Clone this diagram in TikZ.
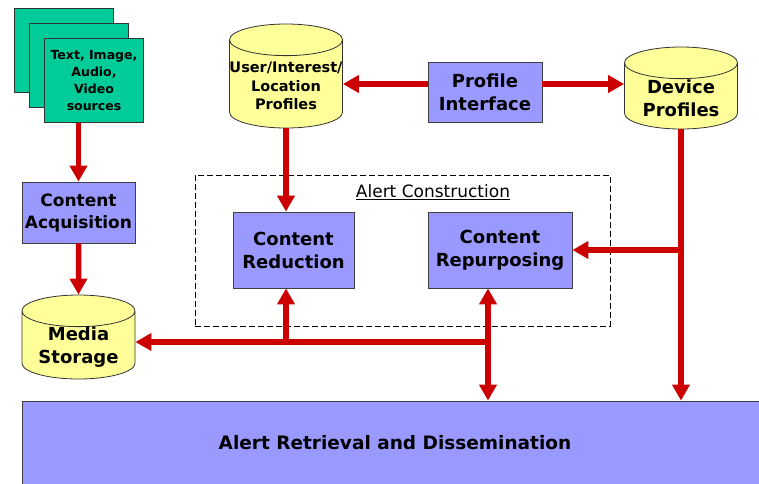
\documentclass[tikz,border=0pt]{standalone}
\usepackage{fontspec}
\setmainfont{DejaVu Sans}
\usetikzlibrary{arrows.meta,shapes.geometric}
\definecolor{procblue}{RGB}{153,153,255}
\definecolor{dbyellow}{RGB}{255,255,153}
\definecolor{srcgreen}{RGB}{0,204,153}
\definecolor{linkred}{RGB}{204,0,0}
\tikzstyle{proc}=[rectangle,draw=black!75,line width=0.8pt,fill=procblue,align=center,inner sep=0pt,font=\bfseries\fontsize{18}{23}\selectfont]
\tikzstyle{db}=[cylinder,shape border rotate=90,aspect=0.28,anchor=shape center,draw=black!80,line width=0.8pt,fill=dbyellow,minimum width=113pt,inner sep=0pt]
\tikzstyle{dbtext}=[align=center,yshift=-2pt,font=\bfseries\fontsize{18}{23}\selectfont]
\tikzstyle{page}=[rectangle,draw=black!80,line width=0.8pt,fill=srcgreen,minimum width=99pt,minimum height=84pt]
\tikzstyle{link}=[draw=linkred,line width=5.5pt,-{Triangle[length=16pt,width=17pt]}]

\begin{document}
\begin{tikzpicture}[x=1pt,y=-1pt]
    \useasboundingbox (0,0) rectangle (759,483);
    \clip (0,0) rectangle (759,483);
    % stacked sources
    \foreach \pos/\name in {{(63.5,50)/src1}, {(79,65.5)/src2}}
        \node[page] (\name) at \pos {};
    \node[page,align=center,font=\bfseries\fontsize{12.5}{17}\selectfont] (src3) at (94,80.5) {Text, Image,\\Audio,\\Video\\sources};
    \node[proc,minimum width=113pt,minimum height=61pt,font=\bfseries\fontsize{17}{22}\selectfont] (acq) at (78.5,212.5) {Content\\Acquisition};
    \node[db,minimum height=84pt,label={[dbtext]center:Media\\Storage}] (media) at (78.5,337) {\hspace*{113pt}};
    % profiles
    \node[db,minimum height=104pt,label={[dbtext,font=\bfseries\fontsize{14.5}{18.5}\selectfont]center:User/Interest/\\Location\\Profiles}] (user) at (286,76) {\hspace*{113pt}};
    \node[proc,minimum width=114pt,minimum height=60pt] (iface) at (485,92) {Profile\\Interface};
    \node[db,minimum height=82pt,label={[dbtext]center:Device\\Profiles}] (device) at (681,88) {\hspace*{113pt}};
    % alert construction
    \node[draw,dash pattern=on 6pt off 3pt,line width=0.8pt,minimum width=415pt,minimum height=151pt] (construct) at (402.5,250.5) {};
    \node[font=\fontsize{17}{20}\selectfont] (ctitle) at (433,192) {\underline{Alert Construction}};
    \node[proc,minimum width=121pt,minimum height=76pt] (red) at (293.5,250) {Content\\Reduction};
    \node[proc,minimum width=144pt,minimum height=76pt] (rep) at (500,250) {Content\\Repurposing};
    \node[proc,minimum width=746pt,minimum height=84pt,font=\bfseries\fontsize{18.5}{22}\selectfont] (alert) at (395,443) {Alert Retrieval and Dissemination};
    \coordinate (jl) at (286,342);
    \coordinate (jr) at (488,342);
    \coordinate (ifl) at ([yshift=8pt]iface.west);
    \coordinate (ifr) at ([yshift=8pt]iface.east);
    % connectors
    \path[link] (acq.north |- src3.south) -- (acq.north);
    \path[link] (acq.south) -- (media.north);
    \path[link] (ifl) -- (ifl -| user.east);
    \path[link] (ifr) -- (ifr -| device.west);
    \path[link] (user.south) -- (user.south |- red.north);
    \foreach \source/\dest in {jl/red, jr/rep}
        \path[link] (\source) -- (\source |- \dest.south);
    \path[link] (jr) -- (jr |- alert.north);
    \path[link] (jr) -- (media.east |- jr);
    \path[link] (device.south) -- (device.south |- alert.north);
    \path[link] (device.south |- rep.east) -- (rep.east);
\end{tikzpicture}
\end{document}
